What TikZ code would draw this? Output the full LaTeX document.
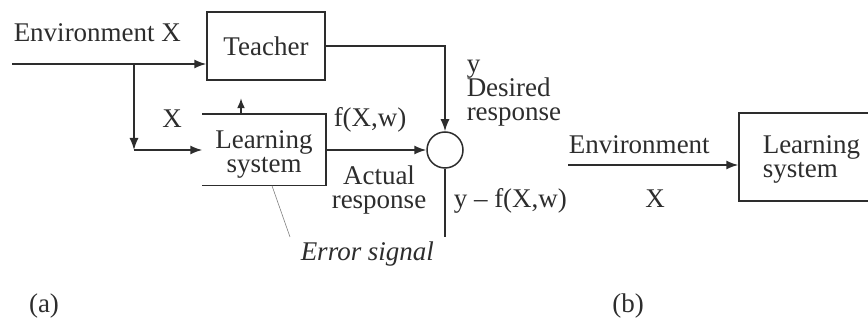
\documentclass[tikz,border=0pt]{standalone}
\usepackage{fontspec}
\setmainfont{Liberation Serif}
\usetikzlibrary{arrows.meta}
\definecolor{ink}{RGB}{45,45,45}
\begin{document}
\begin{tikzpicture}[x=1pt,y=-1pt, line width=1.5pt, color=ink,
  every node/.style={font=\fontsize{27}{24}\selectfont, inner sep=0pt, text=ink},
  arr/.style={-{Latex[length=12pt,width=9pt]}},
  blk/.style={draw, rectangle, line width=1.5pt}]
\useasboundingbox (0,0) rectangle (868,320);
% ---------- (a) ----------
\node[anchor=base west] (envx) at (13,42) {Environment X};
\node[blk, minimum width=118pt, minimum height=68pt] (teacher) at (266,46) {Teacher};
\coordinate (start) at (12,64);
\coordinate (br) at (134,64);
\coordinate (corner) at (134,150);
\node[minimum width=122pt, minimum height=70pt] (lbox) at (264,150) {};
\draw (lbox.north west) -- (lbox.north east) -- (lbox.south east) -- (lbox.south west);
\node[align=center, anchor=base] (ltext) at (264,173) {Learning\\system};
\draw[arr] (start) -- (start -| teacher.west);
\draw[arr] (br) -- (corner);
\draw[arr] (corner) -- (corner -| lbox.west);
\draw[-{Latex[length=10pt,width=8pt]}] ([xshift=-23pt]lbox.north) -- ++(0,-16);
\node[anchor=base] (xlab) at (172,128) {X};
\node[circle, draw, minimum size=36pt] (sum) at (445,150) {};
\draw[arr] (lbox.east) -- (sum.west);
\draw[arr] (teacher.east) -- (teacher.east -| sum.north) -- (sum.north);
\coordinate (sumend) at (445,237);
\draw (sum.south) -- (sumend);
\node[anchor=base west] (fxw) at (333,127) {f(X,w)};
\node[anchor=base west] (ylab) at (466,73) {y};
\node[anchor=base west, align=left] (desired) at (466,121) {Desired\\response};
\node[anchor=base, align=center] (actual) at (379,209) {Actual\\response};
\node[anchor=base west] (err) at (453,208) {y – f(X,w)};
\node[anchor=base west, font=\fontsize{27}{24}\selectfont\itshape] (errsig) at (300,261) {Error signal};
\coordinate (errtip) at (290,237);
\draw[line width=0.6pt, gray] ([xshift=8pt]lbox.south) -- (errtip);
\node[anchor=base] (la) at (44,313) {(a)};
% ---------- (b) ----------
\node[blk, minimum width=132pt, minimum height=88pt] (rbox) at (805,157) {};
\node[align=left, anchor=base west] (rtext) at (762,178) {Learning\\system};
\coordinate (rin) at (568,165);
\draw[arr] (rin) -- (rin -| rbox.west);
\node[anchor=base west] (renv) at (568,154) {Environment};
\node[anchor=base] (rx) at (655,208) {X};
\node[anchor=base] (lb) at (628,313) {(b)};
\end{tikzpicture}
\end{document}
